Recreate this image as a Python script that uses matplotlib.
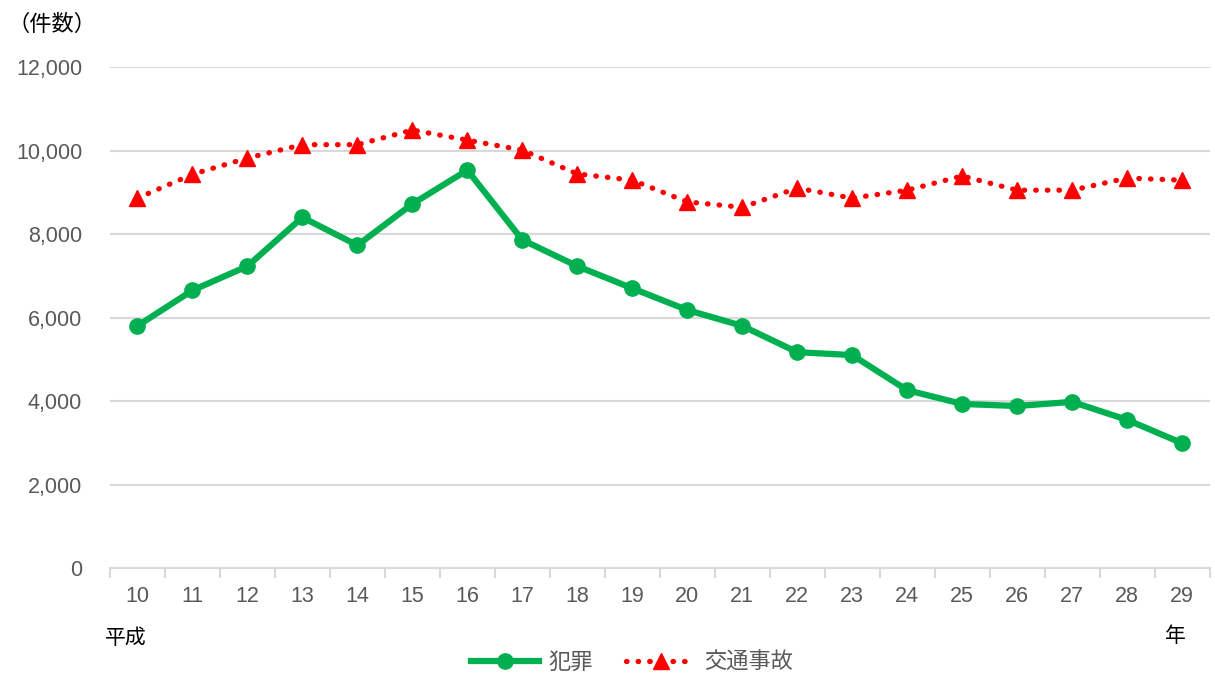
import matplotlib.pyplot as plt
from matplotlib.lines import Line2D

plt.rcParams['font.family'] = ['Liberation Sans', 'Noto Sans CJK JP', 'DejaVu Sans']

years = ["10", "11", "12", "13", "14", "15", "16", "17", "18", "19",
         "20", "21", "22", "23", "24", "25", "26", "27", "28", "29"]
crime = [5800, 6650, 7230, 8400, 7730, 8720, 9530, 7860, 7230, 6700,
         6180, 5800, 5170, 5100, 4260, 3930, 3880, 3980, 3550, 2990]
traffic = [8860, 9430, 9820, 10140, 10140, 10490, 10250, 10010, 9440, 9290,
           8770, 8640, 9100, 8860, 9050, 9390, 9050, 9050, 9340, 9290]

green = "#00b050"
red = "#ff0000"
grey_txt = "#595959"
grid_clr = "#d9d9d9"
dots = (0, (0.1, 2.1))

fig = plt.figure(figsize=(12.15, 6.75), dpi=100)
ax = fig.add_axes([0.0905, 0.1585, 0.905, 0.7422])

x = list(range(len(years)))
ax.plot(x, crime, color=green, lw=4.5, marker="o", ms=11, zorder=3)
ax.plot(x, traffic, color=red, lw=3.8, ls=dots, dash_capstyle="round",
        marker="^", ms=11, zorder=3)

ax.set_xlim(-0.5, len(years) - 0.5)
ax.set_ylim(0, 12000)
ax.set_yticks(range(0, 12001, 2000))
ax.set_yticklabels([f"{v:,}" for v in range(0, 12001, 2000)])
ax.set_xticks(x)
ax.set_xticklabels(years)
ax.set_xticks([i - 0.5 for i in range(len(years) + 1)], minor=True)
ax.tick_params(axis="x", which="major", length=0, pad=13, labelsize=15.5, colors=grey_txt)
ax.tick_params(axis="x", which="minor", length=7, width=1.5, color=grid_clr)
ax.tick_params(axis="y", length=0, pad=20, labelsize=15.5, colors=grey_txt)
ax.grid(axis="y", color=grid_clr, lw=1.5)
ax.set_axisbelow(True)
for s in ["top", "right", "left"]:
    ax.spines[s].set_visible(False)
ax.spines["bottom"].set_color(grid_clr)
ax.spines["bottom"].set_linewidth(1.5)

fig.text(0.006, 0.963, "（件数）", fontsize=16, color="black", va="center")
fig.text(0.086, 0.055, "平成", fontsize=15, color="black", va="center")
fig.text(0.959, 0.057, "年", fontsize=15, color="black", va="center")

handles = [
    Line2D([], [], color=green, lw=4.5, marker="o", ms=11),
    Line2D([], [], color=red, lw=3.8, ls=dots, dash_capstyle="round", marker="^", ms=11),
]
leg = fig.legend(handles, ["犯罪", "交通事故"], loc="center", bbox_to_anchor=(0.52, 0.018),
                 ncol=2, frameon=False, fontsize=16, handlelength=3.1, columnspacing=1.5,
                 handletextpad=0.4)
for t in leg.get_texts():
    t.set_color(grey_txt)

fig.savefig("out.png", dpi=100)
